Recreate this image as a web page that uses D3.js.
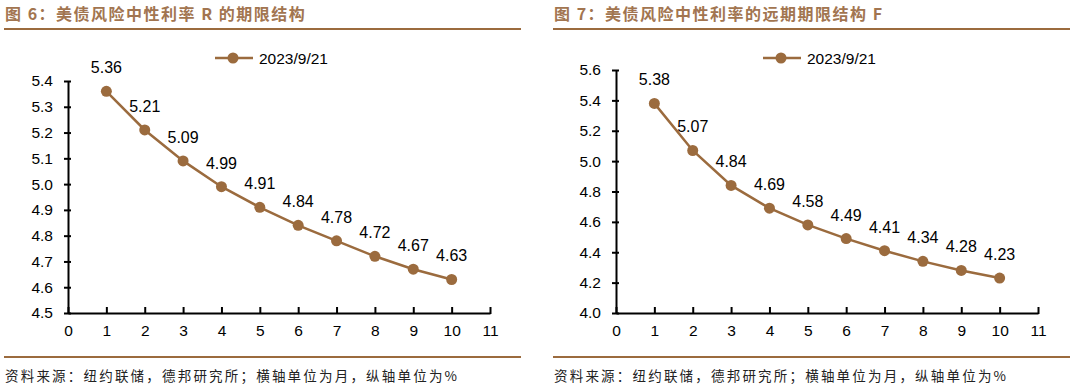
<!DOCTYPE html>
<html>
<head>
<meta charset="utf-8">
<script src="https://cdn.jsdelivr.net/npm/d3@7"></script>
<style>
  body { margin: 0; background: #fff; }
  svg { display: block; }
  .tick text { font-family: "Liberation Sans", Arial, sans-serif; font-size: 15.5px; fill: #000; }
  .tick line, .domain { stroke: #000; stroke-width: 2px; }
</style>
</head>
<body>
<div id="chart"></div>
<script>
// data
var months = [1, 2, 3, 4, 5, 6, 7, 8, 9, 10];
var rateR = [5.36, 5.21, 5.09, 4.99, 4.91, 4.84, 4.78, 4.72, 4.67, 4.63];
var rateF = [5.38, 5.07, 4.84, 4.69, 4.58, 4.49, 4.41, 4.34, 4.28, 4.23];
var seriesName = "2023/9/21";
var xTicks = [0, 1, 2, 3, 4, 5, 6, 7, 8, 9, 10, 11];
var yTicksR = [4.5, 4.6, 4.7, 4.8, 4.9, 5.0, 5.1, 5.2, 5.3, 5.4];
var yTicksF = [4.0, 4.2, 4.4, 4.6, 4.8, 5.0, 5.2, 5.4, 5.6];
var titleR = "图 6：美债风险中性利率 R 的期限结构";
var titleF = "图 7：美债风险中性利率的远期期限结构 F";
var sourceText = "资料来源：纽约联储，德邦研究所；横轴单位为月，纵轴单位为%";

var brown = "#9b6b3e";
var titleColor = "#a27550";

var svg = d3.select("#chart").append("svg")
    .attr("width", 1074)
    .attr("height", 388);

function drawPanel(left, lineRight, axisX, topY, values, yTicks, title) {

    var g = svg.append("g");

    // title
    g.append("text")
        .attr("x", left + 1)
        .attr("y", 20)
        .attr("fill", titleColor)
        .style("font-family", "'Noto Sans CJK SC', sans-serif")
        .style("font-weight", "bold")
        .style("font-size", "16px")
        .style("letter-spacing", "1.5px")
        .text(title);

    // header and footer rules
    g.append("line")
        .attr("x1", left).attr("x2", lineRight)
        .attr("y1", 29).attr("y2", 29)
        .attr("stroke", brown).attr("stroke-width", 2);
    g.append("line")
        .attr("x1", left).attr("x2", lineRight)
        .attr("y1", 357).attr("y2", 357)
        .attr("stroke", brown).attr("stroke-width", 2);

    // source
    g.append("text")
        .attr("x", left + 1)
        .attr("y", 381)
        .attr("fill", "#222")
        .style("font-family", "'Noto Sans CJK SC', sans-serif")
        .style("font-size", "13.5px")
        .style("letter-spacing", "2.2px")
        .text(sourceText);

    var xScale = d3.scaleLinear()
        .domain([0, 11])
        .range([axisX, axisX + 422]);

    var yScale = d3.scaleLinear()
        .domain(d3.extent(yTicks))
        .range([313, topY]);

    var xAxis = d3.axisBottom(xScale)
        .tickValues(xTicks)
        .tickSizeInner(-5)
        .tickSizeOuter(0)
        .tickPadding(12)
        .tickFormat(d3.format("d"));

    var yAxis = d3.axisLeft(yScale)
        .tickValues(yTicks)
        .tickSizeInner(3)
        .tickSizeOuter(0)
        .tickPadding(12)
        .tickFormat(d3.format(".1f"));

    var yG = g.append("g")
        .attr("transform", `translate(${axisX}, 0)`)
        .call(yAxis);
    yG.selectAll(".tick line").attr("x2", 3).attr("x1", -4);

    var xG = g.append("g")
        .attr("transform", `translate(0, 313)`)
        .call(xAxis);
    xG.selectAll(".tick line").attr("y1", 1).attr("y2", -6);
    xG.selectAll(".tick text").attr("y", 12).attr("dy", "0.71em");

    var pts = months.map(function (m, i) { return { x: m, y: values[i] }; });

    var line = d3.line()
        .x(d => xScale(d.x))
        .y(d => yScale(d.y));

    g.append("path")
        .datum(pts)
        .attr("d", line)
        .attr("fill", "none")
        .attr("stroke", brown)
        .attr("stroke-width", 2.5);

    g.selectAll(".pt").data(pts).enter()
        .append("circle")
        .attr("cx", d => xScale(d.x))
        .attr("cy", d => yScale(d.y))
        .attr("r", 5.5)
        .attr("fill", brown);

    g.selectAll(".lbl").data(pts).enter()
        .append("text")
        .attr("x", d => xScale(d.x))
        .attr("y", d => yScale(d.y) - 18)
        .attr("text-anchor", "middle")
        .style("font-family", "'Liberation Sans', Arial, sans-serif")
        .style("font-size", "16px")
        .text(d => d.y.toFixed(2));

    // legend
    var lx = axisX + 147;
    g.append("line")
        .attr("x1", lx).attr("x2", lx + 38)
        .attr("y1", 58).attr("y2", 58)
        .attr("stroke", brown).attr("stroke-width", 2.5);
    g.append("circle")
        .attr("cx", lx + 18).attr("cy", 58).attr("r", 5.5)
        .attr("fill", brown);
    g.append("text")
        .attr("x", lx + 44)
        .attr("y", 63.5)
        .style("font-family", "'Liberation Sans', Arial, sans-serif")
        .style("font-size", "15.5px")
        .text(seriesName);
}

drawPanel(4, 521, 68, 81, rateR, yTicksR, titleR);
drawPanel(553, 1070, 616, 70, rateF, yTicksF, titleF);
</script>
</body>
</html>
